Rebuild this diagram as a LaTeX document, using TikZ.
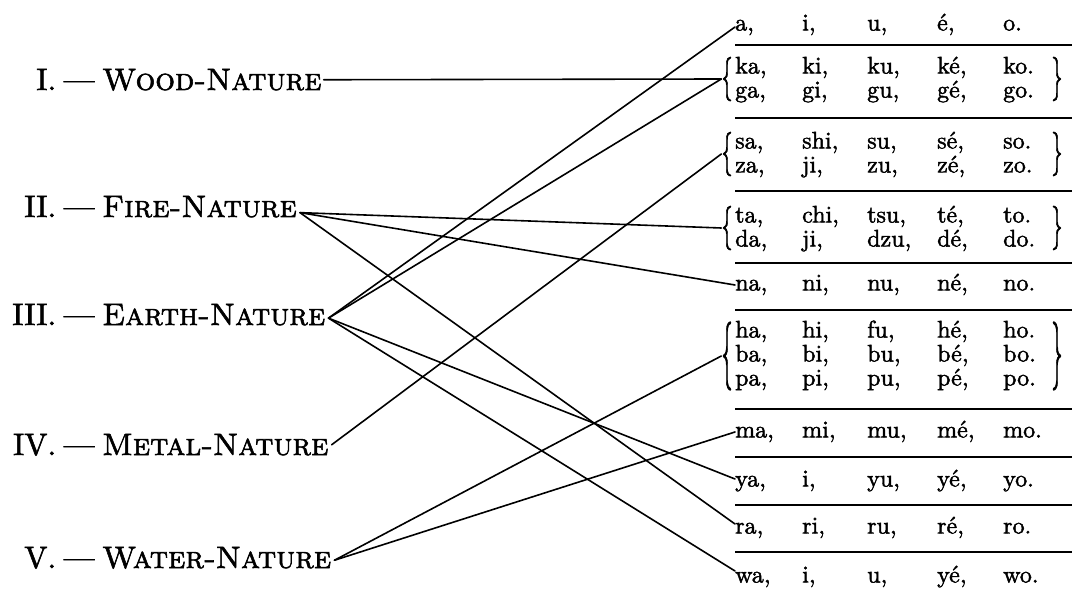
\documentclass[tikz,border=0pt]{standalone}
\usepackage{fontspec}
\newfontfamily\bodyfont{lmroman10-regular.otf}[FakeBold=1.8, SmallCapsFont=lmromancaps10-regular.otf, SmallCapsFeatures={FakeBold=1.8}]
\newcommand\sylrow[5]{\makebox[67pt][l]{#1}\makebox[65pt][l]{#2}\makebox[70pt][l]{#3}\makebox[66pt][l]{#4}#5}
\newcommand\natlabel[2]{\makebox[40pt][r]{#1}\hspace{8pt}\makebox[30pt]{—}\hspace{8pt}\textsc{#2}}
\newcommand\lbr[1]{\scalebox{1}[#1]{\{}}
\newcommand\rbr[1]{\scalebox{1}[#1]{\}}}
\begin{document}
\begin{tikzpicture}[x=1pt,y=-1pt,
  lab/.style={anchor=base west, inner sep=0pt, font=\bodyfont\fontsize{31}{31}\selectfont},
  row/.style={anchor=west, inner sep=0pt, text height=16pt, text depth=5pt, font=\bodyfont\fontsize{24}{24}\selectfont},
  brc/.style={inner sep=0pt, font=\bodyfont\fontsize{22}{22}\selectfont},
  conn/.style={line width=1.6pt, line cap=round},
  rulel/.style={line width=1.4pt}]
\useasboundingbox (0,0) rectangle (1072,591);
% left labels
\node[lab] (wood)  at (16,90)  {\natlabel{I.}{Wood-Nature}};
\node[lab] (fire)  at (16,217) {\natlabel{II.}{Fire-Nature}};
\node[lab] (earth) at (16,325) {\natlabel{III.}{Earth-Nature}};
\node[lab] (metal) at (16,455) {\natlabel{IV.}{Metal-Nature}};
\node[lab] (water) at (16,568) {\natlabel{V.}{Water-Nature}};
% rows
\node[row] (a)  at (735,25)  {\sylrow{a,}{i,}{u,}{é,}{o.}};
\node[row] (ka) at (735,68)  {\sylrow{ka,}{ki,}{ku,}{ké,}{ko.}};
\node[row] (ga) at (735,92)  {\sylrow{ga,}{gi,}{gu,}{gé,}{go.}};
\node[row] (sa) at (735,143) {\sylrow{sa,}{shi,}{su,}{sé,}{so.}};
\node[row] (za) at (735,167) {\sylrow{za,}{ji,}{zu,}{zé,}{zo.}};
\node[row] (ta) at (735,217) {\sylrow{ta,}{chi,}{tsu,}{té,}{to.}};
\node[row] (da) at (735,241) {\sylrow{da,}{ji,}{dzu,}{dé,}{do.}};
\node[row] (na) at (735,285) {\sylrow{na,}{ni,}{nu,}{né,}{no.}};
\node[row] (ha) at (735,332) {\sylrow{ha,}{hi,}{fu,}{hé,}{ho.}};
\node[row] (ba) at (735,356) {\sylrow{ba,}{bi,}{bu,}{bé,}{bo.}};
\node[row] (pa) at (735,380) {\sylrow{pa,}{pi,}{pu,}{pé,}{po.}};
\node[row] (ma) at (735,432) {\sylrow{ma,}{mi,}{mu,}{mé,}{mo.}};
\node[row] (ya) at (735,481) {\sylrow{ya,}{i,}{yu,}{yé,}{yo.}};
\node[row] (ra) at (735,528) {\sylrow{ra,}{ri,}{ru,}{ré,}{ro.}};
\node[row] (wa) at (735,577) {\sylrow{wa,}{i,}{u,}{yé,}{wo.}};
% braces
\node[brc] (kagaL)   at (727,79)  {\lbr{2}};
\node[brc] (sazaL)   at (727,154) {\lbr{2}};
\node[brc] (tadaL)   at (727,228) {\lbr{2}};
\node[brc] (habapaL) at (727,356) {\lbr{3.1}};
\node[brc] (kagaR)   at (1057,79)  {\rbr{2}};
\node[brc] (sazaR)   at (1057,154) {\rbr{2}};
\node[brc] (tadaR)   at (1057,228) {\rbr{2}};
\node[brc] (habapaR) at (1057,356) {\rbr{3.1}};
% rules
\foreach \yy in {45,118,191,263,310,409,457,505,552}
  \draw[rulel] (735,\yy) -- (1072,\yy);
% connectors
\draw[conn] ([xshift=2pt]wood.east) -- (kagaL.west);
\draw[conn] ([xshift=3pt,yshift=-6pt]fire.east) -- (tadaL.west);
\draw[conn] ([xshift=3pt,yshift=-6pt]fire.east) -- (na.west);
\draw[conn] ([xshift=3pt,yshift=-6pt]fire.east) -- ([yshift=4pt]ra.west);
\draw[conn] ([xshift=3pt,yshift=-3.5pt]earth.east) -- ([yshift=-2pt]a.west);
\draw[conn] ([xshift=3pt,yshift=-3.5pt]earth.east) -- (kagaL.west);
\draw[conn] ([xshift=3pt,yshift=-3.5pt]earth.east) -- ([yshift=2pt]ya.west);
\draw[conn] ([xshift=3pt,yshift=-3.5pt]earth.east) -- ([yshift=6pt]wa.west);
\draw[conn] ([xshift=3pt]metal.east) -- (sazaL.west);
\draw[conn] ([xshift=3pt,yshift=-2.5pt]water.east) -- (habapaL.west);
\draw[conn] ([xshift=3pt,yshift=-2.5pt]water.east) -- (ma.west);
\end{tikzpicture}
\end{document}
